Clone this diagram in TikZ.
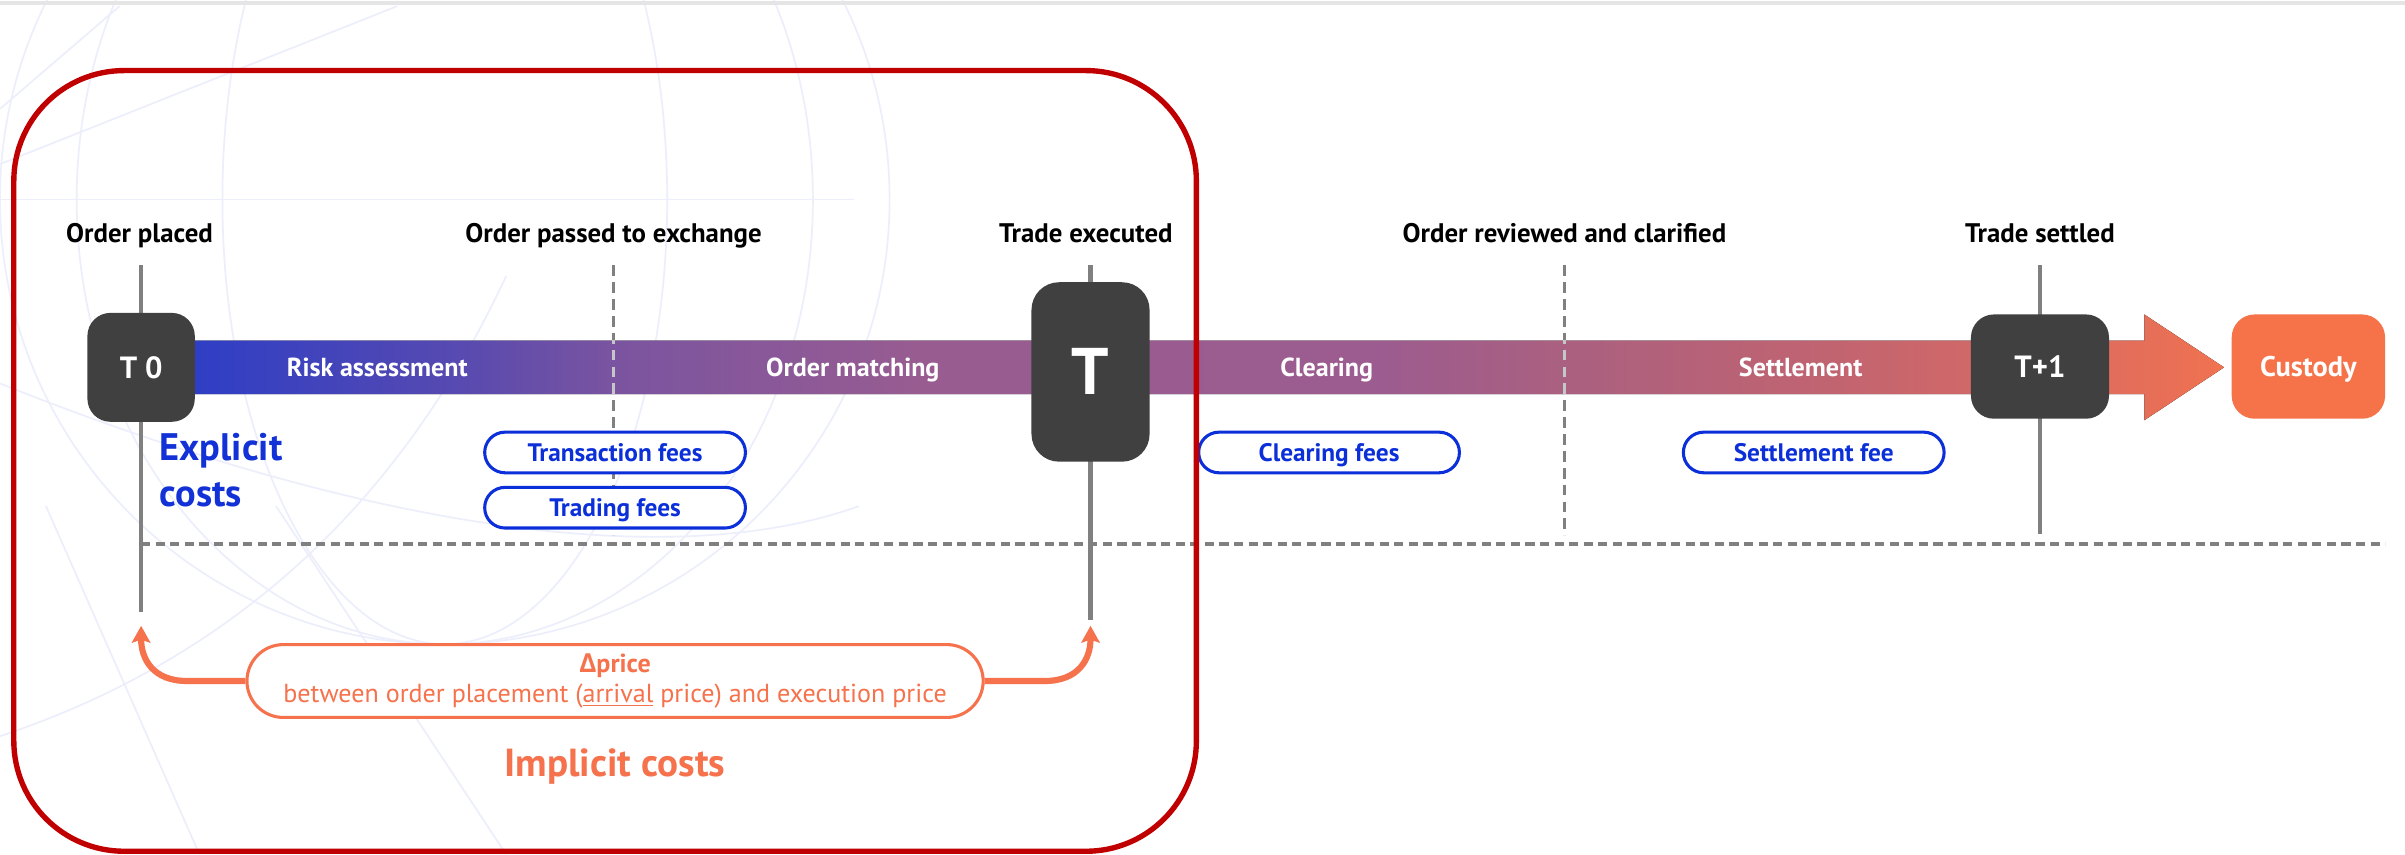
\documentclass[tikz,border=0pt]{standalone}
\usepackage{fontspec}
\setmainfont{PT Sans}
\newfontfamily\deltafont{Open Sans}
\usetikzlibrary{positioning, shapes.misc, arrows.meta, calc}

\definecolor{tgray}{HTML}{404040}
\definecolor{linegray}{HTML}{808080}
\definecolor{feeblue}{HTML}{0B2FD8}
\definecolor{costblue}{HTML}{1231D6}
\definecolor{costorange}{HTML}{F5724C}
\definecolor{custodyorange}{HTML}{F6734A}
\definecolor{framered}{HTML}{C00000}
\definecolor{globeline}{RGB}{236,239,251}

\pgfdeclarehorizontalshading{phaseshade}{100bp}{rgb(0bp)=(.176,.243,.776); rgb(25bp)=(.176,.243,.776); rgb(31.8bp)=(.345,.290,.690); rgb(35.5bp)=(.478,.329,.627); rgb(43bp)=(.596,.361,.569); rgb(54.3bp)=(.612,.361,.561); rgb(58.8bp)=(.667,.376,.502); rgb(65.6bp)=(.761,.392,.439); rgb(70.5bp)=(.847,.416,.392); rgb(75bp)=(.941,.447,.314); rgb(100bp)=(.941,.447,.314)}

\begin{document}
\begin{tikzpicture}[x=1pt,y=-1pt,
  steplabel/.style={font=\bfseries\fontsize{17.5}{20}\selectfont, anchor=base},
  phaselabel/.style={text=white, font=\bfseries\fontsize{17}{20}\selectfont, anchor=base},
  tbox/.style={fill=tgray, rounded corners=15pt, text=white, inner sep=0pt,
    font=\bfseries\fontsize{20}{23}\selectfont, text height=14pt, text depth=0pt},
  feepill/.style={rounded rectangle, draw=feeblue, line width=2pt, fill=white,
    minimum width=170pt, minimum height=26.5pt, inner sep=0pt, text=feeblue,
    font=\bfseries\fontsize{16.5}{18}\selectfont, text height=11.3pt, text depth=0pt},
  milestone/.style={draw=linegray, line width=3pt},
  checkpoint/.style={draw=linegray, line width=2.5pt, dash pattern=on 7pt off 4pt},
  pricearrow/.style={draw=costorange, line width=4pt, -{Stealth[length=11pt,width=12pt,inset=2pt]}},
]
\useasboundingbox (0,0) rectangle (1568,557);
\fill[white] (0,0) rectangle (1568,557);

% faint globe in the background
\begin{scope}[draw=globeline, line width=1.1pt]
\clip (0,0) rectangle (1568,557);
\draw (290,130) circle (290pt);
\draw (290,130) ellipse (145pt and 290pt);
\draw (290,130) ellipse (240pt and 290pt);
\draw (0,130) -- (557,130);
\draw (0,71) -- (78,4);
\draw (0,107) -- (259,4);
\draw (0,250) .. controls (200,330) and (420,380) .. (560,330);
\draw (0,480) .. controls (150,430) and (260,330) .. (330,180);
\draw (30,330) -- (130,557);
\draw (180,330) -- (330,557);
\end{scope}
\draw[black!10, line width=3pt] (0,2) -- (1568,2);

% milestones and checkpoints
\coordinate (placedtop) at (92,173);
\coordinate (placedend) at (92,399);
\coordinate (placedtip) at (92,408);
\coordinate (passedtop) at (400,173);
\coordinate (passedend) at (400,349);
\coordinate (exectop) at (711,173);
\coordinate (execend) at (711,404.5);
\coordinate (exectip) at (711,408);
\coordinate (reviewedtop) at (1020,173);
\coordinate (reviewedend) at (1020,349);
\coordinate (settletop) at (1330,173);
\coordinate (settleend) at (1330,348);
\coordinate (costsplit) at (92,354.5);
\coordinate (costsplitend) at (1555,354.5);

\draw[milestone] (placedtop) -- (placedend);
\draw[milestone] (exectop) -- (execend);
\draw[milestone] (settletop) -- (settleend);
\draw[checkpoint] (passedtop) -- (passedend);
\draw[checkpoint] (reviewedtop) -- (reviewedend);
\draw[draw=linegray, line width=2.5pt, dash pattern=on 6pt off 3.5pt] (costsplit) -- (costsplitend);

% process bar
\fill[shading=phaseshade] (120,222) -- (1398,222) -- (1398,205) -- (1450,239.5)
  -- (1398,274) -- (1398,257) -- (120,257) -- cycle;
\begin{scope}
\clip (120,222) rectangle (1398,257);
\draw[checkpoint, draw=linegray!45] (passedtop) -- (passedend);
\draw[checkpoint, draw=linegray!45] (reviewedtop) -- (reviewedend);
\end{scope}

\node[tbox, minimum width=70pt, minimum height=71pt] (tzero) at (92,239.5) {T 0};
\node[tbox, minimum width=77pt, minimum height=117pt, rounded corners=18pt,
  font=\bfseries\fontsize{43}{48}\selectfont, text height=30pt] (texec) at (711,242.5) {T};
\node[tbox, minimum width=90pt, minimum height=68pt] (tsettle) at (1330,239) {T+1};
\node[tbox, fill=custodyorange, minimum width=100pt, minimum height=68pt,
  font=\bfseries\fontsize{18.5}{21}\selectfont, text height=12.9pt] (custody) at (1505,239) {Custody};

% labels
\node[steplabel] (placed) at (91,158) {Order placed};
\node[steplabel] (passed) at (400,158) {Order passed to exchange};
\node[steplabel] (executed) at (708,158) {Trade executed};
\node[steplabel] (reviewed) at (1020,158) {Order reviewed and clarified};
\node[steplabel] (settled) at (1330,158) {Trade settled};

\node[phaselabel] (risk) at (246,245.5) {Risk assessment};
\node[phaselabel] (matching) at (556,245.5) {Order matching};
\node[phaselabel] (clearing) at (865,245.5) {Clearing};
\node[phaselabel] (settlement) at (1174,245.5) {Settlement};

% explicit costs
\node[feepill] (feetrans) at (401,295) {Transaction fees};
\node[feepill, below=7.5pt of feetrans] (feetrade) {Trading fees};
\node[feepill] (feeclear) at (866.5,295) {Clearing fees};
\node[feepill] (feesettle) at (1182.5,295) {Settlement fee};
\node[anchor=north west, align=left, inner sep=0pt, text=costblue,
  font=\bfseries\fontsize{25}{30}\selectfont] (explicit) at (104,282) {Explicit\\costs};

% implicit costs
\node[rounded rectangle, draw=costorange, line width=2pt, fill=white, minimum width=480pt,
  minimum height=47.5pt, inner sep=0pt, text=costorange, align=center,
  font=\fontsize{17}{20}\selectfont] (pricepill) at (401,444)
  {{\deltafont\bfseries Δ}\textbf{price}\\between order placement (\underline{arrival} price) and execution price};
\draw[pricearrow] (pricepill.west) -- (122,444) .. controls (100,444) and (92,430) .. (placedtip);
\draw[pricearrow] (pricepill.east) -- (681,444) .. controls (703,444) and (711,430) .. (exectip);
\node[anchor=base, text=costorange, font=\bfseries\fontsize{25.5}{29}\selectfont] (implicit) at (401,506) {Implicit costs};

% frame round the pre-trade part
\draw[framered, line width=3.5pt, rounded corners=72pt] (9,46) rectangle (780,555);

\end{tikzpicture}
\end{document}
